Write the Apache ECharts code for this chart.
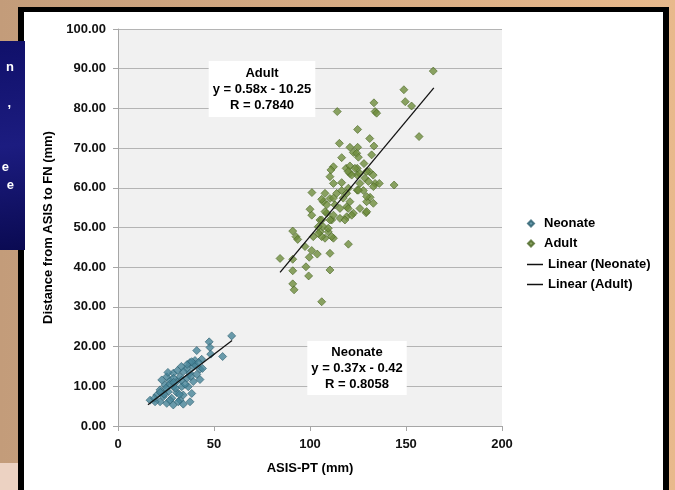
<!DOCTYPE html>
<html><head><meta charset="utf-8">
<script src="https://cdn.jsdelivr.net/npm/echarts@6/dist/echarts.min.js"></script>
<style>html,body{margin:0;padding:0;background:#c9a07c;}#c{width:675px;height:490px;}</style>
</head><body><div id="c"></div>
<script>
const neonateX = [59.2,47.5,47.9,41,48.3,54.5,43.6,40.1,37.5,39.2,35.8,34,28.8,37.5,32.3,35.8,39.2,42.7,25.4,22.8,27.1,30.6,24.5,28.8,33.2,36.6,21.9,26.2,30.6,34,38.4,20.2,23.6,28,32.3,21.9,25.4,28.8,31.4,16.7,19.3,37.5,42.7,26,29,31,33,24,27,30,35,38,33,36,44,41,22,19,27,32,34,25,29,40,42,38.4];
const neonateY = [22.7,21.2,19.8,19.0,18.1,17.5,16.8,16.5,16.0,14.9,14.5,13.7,13.3,13.3,12.4,12.0,11.2,11.7,12.4,11.6,11.4,11.2,10.3,9.9,9.9,9.9,9.1,8.6,8.4,7.8,8.2,7.8,7.4,7.0,6.5,6.1,5.7,5.3,6.1,6.5,6.1,6.1,14.3,13.5,12,14,11.5,8,10.5,9.5,10.5,12.5,15,15.5,14.5,13,8.5,7,6.5,8,5.5,9.5,11,15.5,16,16.2];
const adultX = [164.2,148.9,149.6,152.9,156.8,114.2,133.3,133.9,134.7,124.8,115.3,131.1,133.3,120.8,124.8,122.6,124.3,116.5,125.2,132.1,112.2,110.9,110.4,118.8,120.8,124.6,128.1,130.9,132.9,112.2,116.5,120.8,124.6,129.5,133.9,136.1,143.8,101,107.8,110.4,113.9,116.5,120,124.6,127.8,131.3,133,129.5,126,129.2,106.9,113,119.1,122.6,100,100.9,105.2,108.7,111.3,115.6,119.1,106.9,105.2,109.5,107.8,112.2,101.7,91,92.7,93.6,120,97.4,100.9,103.8,110.4,99.6,84.4,91,97.9,91,99.3,110.4,91,91.7,106.1,123.4,126,119.9,121.7,128.6,126,130.4,133,119.1,125.2,106.1,112.2,117.3,120.8,129.5,108.7,115.6,119.9,107.8,112.2,121.7,129.5,106.1,110.4,118.2,104.3,109.5,106.1,111.3,104.3];
const adultY = [89.4,84.7,81.7,80.6,72.9,79.2,81.4,79.2,78.8,74.7,71.2,72.4,70.5,70.2,70.2,68.9,68.7,67.6,67.7,68.3,65.3,64.5,62.8,64.9,65.5,64.9,66.1,64.1,63.2,61.1,61.3,63.6,63.2,64.1,61.1,61.1,60.7,58.8,58.6,57.3,58.6,59.3,59.9,59.4,59.3,57.6,56.1,56.5,54.8,53.7,56.5,55.7,55.2,53.6,54.6,53.1,51.9,53.6,51.9,52.3,52.7,50.2,48.9,48.9,47.3,47.3,47.7,49.1,47.7,47.0,45.8,45.2,44.2,43.3,43.5,42.5,42.2,42.0,40.1,39.1,37.8,39.3,35.8,34.3,31.3,64.9,63.6,64.1,63.2,62.4,61.1,61.6,60.3,58.6,59.4,57.1,57.4,57.4,56.5,57.8,55.7,54.8,54.8,54.0,53.1,53.1,54,51.9,51.9,51.9,50.2,49.8,47.7,47.7,48.5];
// trendline equations (slope, intercept) and x-extent, as labelled
const neonateFit = [0.37, -0.42];
const adultFit = [0.58, -10.25];
const neonateRange = [15.6, 59.4];
const adultRange = [84.4, 164.5];
const yTicks = [0,10,20,30,40,50,60,70,80,90,100];
const xTicks = [0,50,100,150,200];

const zip = (a, b) => a.map((v, i) => [v, b[i]]);
const fitLine = (f, r) => r.map(x => [x, f[0] * x + f[1]]);

const FONT = 'Liberation Sans, Arial, sans-serif';
const chart = echarts.init(document.getElementById('c'));
const diamond = 'path://M0,-1L1,0L0,1L-1,0Z';

chart.setOption({
  animation: false,
  textStyle: { fontFamily: FONT },
  graphic: [
    { type: 'rect', z: -20, shape: { x: 0, y: 0, width: 675, height: 490 },
      style: { fill: new echarts.graphic.LinearGradient(0, 0, 1, 0, [{offset: 0, color: '#c39c7a'}, {offset: 1, color: '#e8b98c'}]) } },
    { type: 'rect', z: -19, shape: { x: 0, y: 463, width: 18, height: 27 }, style: { fill: '#ecd2c2' } },
    { type: 'rect', z: -18, shape: { x: 18, y: 7, width: 651, height: 500 }, style: { fill: '#000' } },
    { type: 'rect', z: -17, shape: { x: 24, y: 12, width: 639, height: 500 }, style: { fill: '#fff' } },
    { type: 'rect', z: 50, shape: { x: 0, y: 41, width: 25, height: 209 },
      style: { fill: new echarts.graphic.LinearGradient(0, 0, 1, 1, [{offset: 0, color: '#10106a'}, {offset: 0.5, color: '#1c1c80'}, {offset: 1, color: '#0a0a52'}]) } },
    { type: 'text', z: 51, x: 14, y: 67, style: { text: 'n', fill: '#fff', font: 'bold 13px ' + FONT, align: 'right', verticalAlign: 'middle' } },
    { type: 'text', z: 51, x: 11, y: 103, style: { text: ',', fill: '#fff', font: 'bold 13px ' + FONT, align: 'right', verticalAlign: 'middle' } },
    { type: 'text', z: 51, x: 9, y: 167, style: { text: 'e', fill: '#fff', font: 'bold 13px ' + FONT, align: 'right', verticalAlign: 'middle' } },
    { type: 'text', z: 51, x: 14, y: 185, style: { text: 'e', fill: '#fff', font: 'bold 13px ' + FONT, align: 'right', verticalAlign: 'middle' } },
    { type: 'text', z: 60, x: 262, y: 89, style: { text: 'Adult\ny = 0.58x - 10.25\nR = 0.7840', fill: '#000', font: 'bold 13px ' + FONT,
      align: 'center', verticalAlign: 'middle', lineHeight: 16, backgroundColor: '#fff', padding: [4, 4, 4, 4] } },
    { type: 'text', z: 60, x: 357, y: 368, style: { text: 'Neonate\ny = 0.37x - 0.42\nR = 0.8058', fill: '#000', font: 'bold 13px ' + FONT,
      align: 'center', verticalAlign: 'middle', lineHeight: 16, backgroundColor: '#fff', padding: [3, 4, 3, 4] } }
  ],
  grid: { left: 118, right: 173, top: 29, bottom: 64, show: true, backgroundColor: '#f1f1f1', borderWidth: 0 },
  legend: [
    { left: 522, top: 212, orient: 'vertical', itemGap: 7, itemWidth: 16, itemHeight: 6, icon: diamond,
      data: ['Neonate', 'Adult'], textStyle: { fontSize: 13, fontWeight: 'bold', color: '#000', fontFamily: FONT } },
    { left: 522, top: 253, orient: 'vertical', itemGap: 7, itemWidth: 16, itemHeight: 1.5, icon: 'rect',
      data: ['Linear (Neonate)', 'Linear (Adult)'], textStyle: { fontSize: 13, fontWeight: 'bold', color: '#000', fontFamily: FONT } }
  ],
  xAxis: {
    type: 'value', min: xTicks[0], max: xTicks[xTicks.length - 1], interval: 50,
    name: 'ASIS-PT (mm)', nameLocation: 'middle', nameGap: 36,
    nameTextStyle: { fontSize: 13, fontWeight: 'bold', color: '#000', fontFamily: FONT },
    axisLine: { lineStyle: { color: '#a6a6a6' } },
    axisTick: { show: true, length: 5, lineStyle: { color: '#a6a6a6' } },
    axisLabel: { fontSize: 13, fontWeight: 'bold', color: '#111', margin: 12, fontFamily: FONT },
    splitLine: { show: false }
  },
  yAxis: {
    type: 'value', min: yTicks[0], max: yTicks[yTicks.length - 1], interval: 10,
    name: 'Distance from ASIS to FN (mm)', nameLocation: 'middle', nameGap: 57,
    nameTextStyle: { fontSize: 13, fontWeight: 'bold', color: '#000', fontFamily: FONT },
    axisLine: { show: true, lineStyle: { color: '#a6a6a6' } },
    axisTick: { show: true, length: 5, lineStyle: { color: '#a6a6a6' } },
    axisLabel: { fontSize: 13, fontWeight: 'bold', color: '#111', margin: 12, fontFamily: FONT, formatter: v => v.toFixed(2) },
    splitLine: { lineStyle: { color: '#b4b4b4', width: 1 } }
  },
  series: [
    { name: 'Neonate', type: 'scatter', symbol: 'diamond', symbolSize: 8, data: zip(neonateX, neonateY),
      itemStyle: { color: '#478599', borderColor: '#2c5f6f', borderWidth: 0.8 }, z: 3 },
    { name: 'Adult', type: 'scatter', symbol: 'diamond', symbolSize: 8, data: zip(adultX, adultY),
      itemStyle: { color: '#6f8d3d', borderColor: '#4c6826', borderWidth: 0.8 }, z: 3 },
    { name: 'Linear (Neonate)', type: 'line', showSymbol: false, symbol: 'none', data: fitLine(neonateFit, neonateRange),
      lineStyle: { color: '#111', width: 1.3 }, itemStyle: { color: '#111' }, z: 4 },
    { name: 'Linear (Adult)', type: 'line', showSymbol: false, symbol: 'none', data: fitLine(adultFit, adultRange),
      lineStyle: { color: '#111', width: 1.3 }, itemStyle: { color: '#111' }, z: 4 }
  ]
});
</script></body></html>
